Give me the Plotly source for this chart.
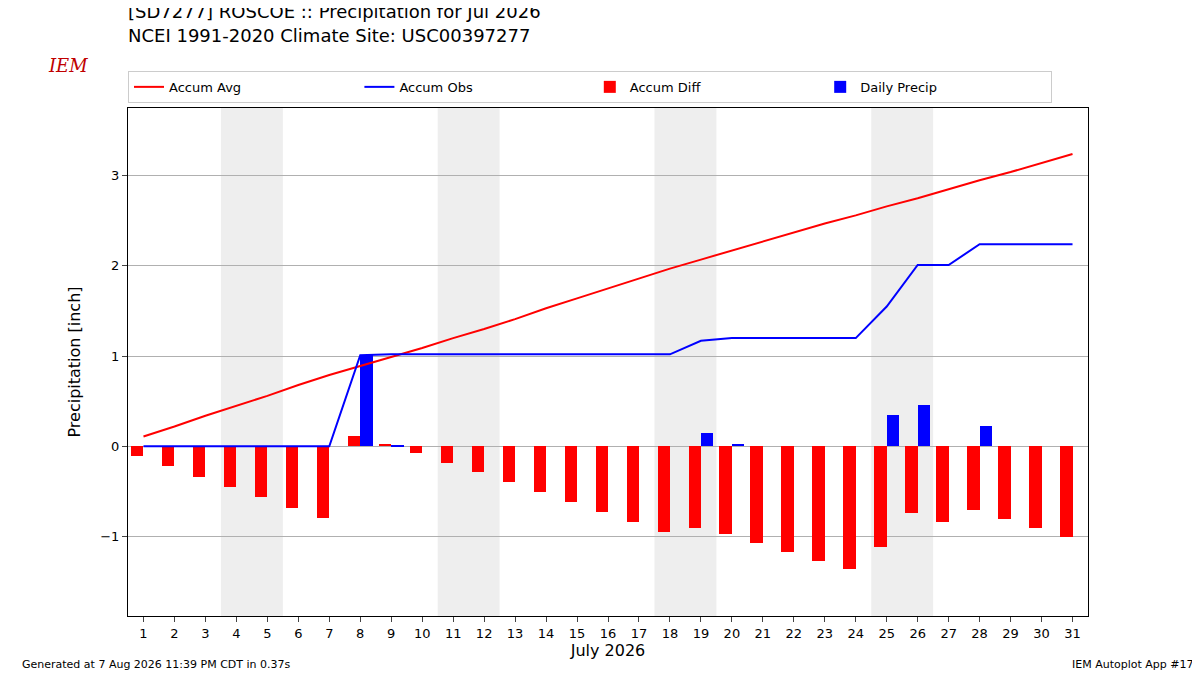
import plotly.graph_objects as go

days = list(range(1, 32))
accum_avg = [0.11,0.22,0.34,0.45,0.56,0.68,0.79,0.89,0.99,1.09,1.20,1.30,1.41,1.53,1.64,1.75,1.86,1.97,2.07,2.17,2.27,2.37,2.47,2.56,2.66,2.75,2.85,2.95,3.04,3.14,3.24]
daily = [0,0,0,0,0,0,0,1.01,0.01,0,0,0,0,0,0,0,0,0,0.15,0.03,0,0,0,0,0.35,0.46,0,0.23,0,0,0]
accum_obs = []
s = 0
for d in daily:
    s += d
    accum_obs.append(round(s, 2))
accum_diff = [o - a for o, a in zip(accum_obs, accum_avg)]
weekends = [(4, 5), (11, 12), (18, 19), (25, 26)]

fig = go.Figure()
fig.add_trace(go.Scatter(x=days, y=accum_avg, mode="lines", line=dict(color="red", width=2), name="Accum Avg"))
fig.add_trace(go.Scatter(x=days, y=accum_obs, mode="lines", line=dict(color="blue", width=2), name="Accum Obs"))
fig.add_trace(go.Bar(x=[d - 0.2 for d in days], y=accum_diff, width=0.4, marker=dict(color="red", line_width=0), name="Accum Diff"))
fig.add_trace(go.Bar(x=[d + 0.2 for d in days], y=daily, width=0.4, marker=dict(color="blue", line_width=0), name="Daily Precip"))

for a, b in weekends:
    fig.add_vrect(x0=a - 0.5, x1=b + 0.5, fillcolor="#eeeeee", line_width=0, layer="below")

fig.update_layout(
    width=1200, height=675, plot_bgcolor="white", paper_bgcolor="white",
    margin=dict(l=120, r=120, t=100, b=67, autoexpand=False),
    font=dict(family="DejaVu Sans", size=13, color="black"),
    barmode="overlay", bargap=0,
    showlegend=True,
    title=dict(text="[SD7277] ROSCOE :: Precipitation for Jul 2026<br>NCEI 1991-2020 Climate Site: USC00397277",
               x=0.1, xanchor="left", y=0.985, yanchor="top", font=dict(size=18)),
    legend=dict(orientation="h", x=0, xanchor="left", y=1.01, yanchor="bottom",
                bordercolor="#cccccc", borderwidth=1, entrywidth=0.24, entrywidthmode="fraction",
                font=dict(size=13)),
    xaxis=dict(range=[0.5, 31.5], tickmode="array", tickvals=days, ticktext=[str(d) for d in days],
               title=dict(text="July 2026", font=dict(size=16), standoff=5), showgrid=False, showline=True,
               linecolor="black", mirror=True, ticks="outside"),
    yaxis=dict(range=[-1.88, 3.75], tickvals=[-1, 0, 1, 2, 3], ticktext=["−1", "0", "1", "2", "3"],
               title=dict(text="Precipitation [inch]", font=dict(size=16)), showgrid=True,
               gridcolor="#b0b0b0", zeroline=False, showline=True, linecolor="black", mirror=True, ticks="outside"),
)
fig.add_annotation(text="<i>IEM</i>", xref="paper", yref="paper", x=-0.085, y=1.108, showarrow=False,
                   font=dict(size=18, color="#c00000", family="DejaVu Serif"))
fig.add_annotation(text="Generated at 7 Aug 2026 11:39 PM CDT in 0.37s", xref="paper", yref="paper",
                   x=-0.1125, y=-0.112, xanchor="left", showarrow=False, font=dict(size=11))
fig.add_annotation(text="IEM Autoplot App #17", xref="paper", yref="paper",
                   x=1.1125, y=-0.112, xanchor="right", showarrow=False, font=dict(size=11))
fig.write_html("out.html")
